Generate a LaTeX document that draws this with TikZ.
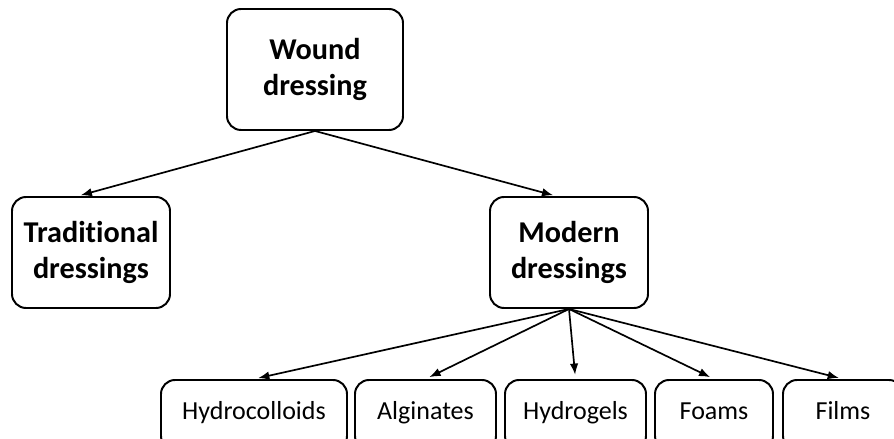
\documentclass[tikz,border=0pt]{standalone}
\usepackage{fontspec}
\setmainfont[RawFeature=-liga]{Carlito}
\usetikzlibrary{arrows.meta}
\usetikzlibrary{positioning}

\begin{document}
\begin{tikzpicture}[
    topbox/.style={draw, line width=1.4pt, rounded corners=10pt, align=center,
      minimum width=3.95cm, minimum height=2.775cm,
      font=\fontsize{21.5}{25.5}\selectfont\bfseries},
    leafbox/.style={draw, line width=1.4pt, rounded corners=10pt,
      minimum height=1.75cm, text height=2.1ex, text depth=0.7ex,
      font=\fontsize{18.5}{22}\selectfont},
    link/.style={-{Latex[length=8pt,width=6pt]}, line width=1.2pt}]
  \clip (0,0) rectangle (22.35,10.975);
  % upper levels
  \node[topbox, minimum width=4.4cm, minimum height=3.025cm] (wound) at (7.875,9.2375) {Wound\\dressing};
  \node[topbox] (trad) at (2.275,4.6625) {Traditional\\dressings};
  \node[topbox] (modern) at (14.225,4.6625) {Modern\\dressings};
  % kinds of modern dressings
  \node[leafbox, minimum width=4.65cm] (hydro) at (6.35,0.6) {Hydrocolloids};
  \node[leafbox, minimum width=3.525cm] (algi) at (10.6375,0.6) {Alginates};
  \node[leafbox, minimum width=3.525cm] (gels) at (14.3875,0.6) {Hydrogels};
  \node[leafbox, minimum width=2.95cm] (foam) at (17.85,0.6) {Foams};
  \node[leafbox, minimum width=3cm] (film) at (21.075,0.6) {Films};
  \draw[link, shorten >=2pt] (wound.south) -- (trad.103);
  \draw[link, shorten >=2pt] (wound.south) -- (modern.103);
  \foreach \leaf in {hydro,algi,gels,foam,film}
  {
    \draw[link, shorten >=3pt] (modern.south) -- (\leaf.north);
  }
\end{tikzpicture}
\end{document}
